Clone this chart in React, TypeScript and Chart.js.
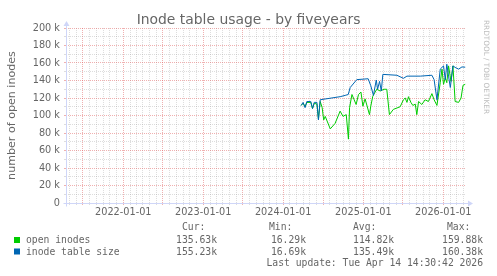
import React, { useEffect, useRef } from 'react';
import { Chart, registerables } from 'chart.js';

Chart.register(...registerables);

// ---- text ----
const TITLE = 'Inode table usage - by fiveyears';
const Y_LABEL = 'number of open inodes';
const WATERMARK = 'RRDTOOL / TOBI OETIKER';
const LAST_UPDATE = 'Last update: Tue Apr 14 14:30:42 2026';

// ---- time range ----
const RANGE_START = '2021-04-14T14:30:42Z';
const RANGE_END = '2026-04-14T14:30:42Z';

// ---- y axis ----
const Y_MIN = 0;
const Y_MAX = 200000;
const Y_MINOR_STEP = 10000;
const Y_MAJOR_STEP = 20000;

// ---- series: inode table size ----
const tableSizeDates = [
  '2024-03-23', '2024-04-01', '2024-04-10', '2024-04-18', '2024-05-06', '2024-05-14',
  '2024-05-22', '2024-06-03', '2024-06-10', '2024-06-18', '2024-09-17', '2024-10-10',
  '2024-10-24', '2024-11-02', '2024-12-02', '2025-01-23', '2025-02-04', '2025-02-16',
  '2025-03-01', '2025-03-07', '2025-03-16', '2025-03-24', '2025-03-31', '2025-06-03',
  '2025-07-03', '2025-07-19', '2025-09-18', '2025-11-10', '2025-11-20', '2025-12-03',
  '2025-12-18', '2026-01-02', '2026-01-10', '2026-01-17', '2026-01-25', '2026-02-02',
  '2026-02-14', '2026-02-24', '2026-03-12', '2026-03-27', '2026-04-11',
];
const tableSizeValues = [
  111500, 115000, 109000, 116000, 116000, 108000,
  115000, 115000, 95000, 118000, 121500, 123000,
  124000, 132000, 141000, 142000, 134000, 123000,
  140600, 130000, 139000, 128000, 147000, 146000,
  142500, 145000, 145000, 146000, 141000, 118000,
  153000, 156700, 141000, 158600, 145000, 132000,
  156700, 155000, 153000, 155500, 155230,
];

// ---- series: open inodes ----
const openInodeDates = [
  '2024-03-23', '2024-04-01', '2024-04-10', '2024-04-18', '2024-05-06', '2024-05-14',
  '2024-05-22', '2024-06-03', '2024-06-10', '2024-06-18', '2024-06-27', '2024-07-04',
  '2024-07-11', '2024-08-03', '2024-08-25', '2024-09-17', '2024-09-30', '2024-10-15',
  '2024-10-25', '2024-10-30', '2024-11-10', '2024-11-20', '2024-11-29', '2024-12-10',
  '2024-12-21', '2024-12-30', '2025-01-09', '2025-01-29', '2025-02-04', '2025-02-13',
  '2025-03-03', '2025-03-19', '2025-04-06', '2025-04-18', '2025-04-30', '2025-05-18',
  '2025-06-18', '2025-07-03', '2025-07-11', '2025-07-19', '2025-07-26', '2025-08-06',
  '2025-08-15', '2025-08-26', '2025-09-02', '2025-09-10', '2025-09-25', '2025-10-10',
  '2025-10-25', '2025-11-10', '2025-11-20', '2025-12-03', '2025-12-18', '2025-12-26',
  '2026-01-02', '2026-01-10', '2026-01-17', '2026-01-25', '2026-02-05', '2026-02-14',
  '2026-02-24', '2026-03-12', '2026-03-23', '2026-04-01', '2026-04-11',
];
const openInodeValues = [
  111500, 114000, 110000, 115000, 115000, 108000,
  114000, 113000, 96000, 116000, 109000, 95000,
  99000, 84700, 91000, 105000, 99000, 101000,
  73000, 109000, 124000, 118000, 112600, 124000,
  126800, 110700, 119000, 101000, 110700, 122000,
  130000, 128000, 130000, 130000, 101000, 107000,
  110000, 118000, 120000, 115000, 121500, 115000,
  111500, 113000, 101000, 116000, 112600, 118000,
  116000, 125000, 118000, 111500, 137500, 153000,
  135600, 143000, 137500, 156700, 139000, 156700,
  116000, 115000, 120000, 134500, 135630,
];

// ---- legend table ----
const legendNames = ['open inodes', 'inode table size'];
const statHeaders = ['Cur:', 'Min:', 'Avg:', 'Max:'];
const openInodeStats = ['135.63k', '16.29k', '114.82k', '159.88k'];
const tableSizeStats = ['155.23k', '16.69k', '135.49k', '160.38k'];

// ---- styles ----
const GREEN = '#00CC00';
const BLUE = '#0066B3';
const FONT_COLOR = '#666666';
const AXIS_COLOR = '#CFD6F8';
const MAJOR_GRID = 'rgba(222,79,79,0.45)';
const MINOR_GRID = 'rgba(150,150,150,0.32)';
const SANS = '"DejaVu Sans", sans-serif';
const MONO = '"DejaVu Sans Mono", monospace';

function monthStarts(startMs: number, endMs: number): number[] {
  const out: number[] = [];
  const s = new Date(startMs);
  const y = s.getUTCFullYear();
  let m = s.getUTCMonth() + 1;
  for (;;) {
    const t = Date.UTC(y, m, 1);
    if (t > endMs) break;
    out.push(t);
    m++;
  }
  return out;
}

const isMajorMonth = (v: number | undefined) => {
  if (v === undefined || v === null) return false;
  const m = new Date(v).getUTCMonth();
  return m === 0 || m === 6;
};

const rrdPlugin = {
  id: 'rrdDecor',
  beforeDraw(chart: any) {
    const { ctx, width, height } = chart;
    ctx.save();
    ctx.fillStyle = '#ffffff';
    ctx.fillRect(0, 0, width, height);
    ctx.restore();
  },
  beforeDatasetsDraw(chart: any) {
    const { ctx, chartArea } = chart;
    const x0 = Math.round(chartArea.left) + 0.5;
    const yb = Math.round(chartArea.bottom) + 0.5;
    ctx.save();
    ctx.strokeStyle = AXIS_COLOR;
    ctx.fillStyle = AXIS_COLOR;
    ctx.lineWidth = 1;
    ctx.beginPath();
    ctx.moveTo(x0, yb + 3);
    ctx.lineTo(x0, chartArea.top - 3);
    ctx.moveTo(x0 - 3, yb);
    ctx.lineTo(chartArea.right + 3, yb);
    ctx.stroke();
    // arrows
    ctx.beginPath();
    ctx.moveTo(x0 - 3, chartArea.top - 2);
    ctx.lineTo(x0 + 3, chartArea.top - 2);
    ctx.lineTo(x0, chartArea.top - 7);
    ctx.closePath();
    ctx.fill();
    ctx.beginPath();
    ctx.moveTo(chartArea.right + 2, yb - 3);
    ctx.lineTo(chartArea.right + 2, yb + 3);
    ctx.lineTo(chartArea.right + 7, yb);
    ctx.closePath();
    ctx.fill();
    ctx.restore();
  },
  afterDraw(chart: any) {
    const { ctx, width, chartArea } = chart;
    ctx.save();
    ctx.fillStyle = FONT_COLOR;
    // title
    ctx.font = `13.9px ${SANS}`;
    ctx.textAlign = 'center';
    ctx.textBaseline = 'alphabetic';
    ctx.fillText(TITLE, width / 2, 24);
    // vertical label
    ctx.save();
    ctx.translate(15, (chartArea.top + chartArea.bottom) / 2);
    ctx.rotate(-Math.PI / 2);
    ctx.font = `11.1px ${SANS}`;
    ctx.textAlign = 'center';
    ctx.fillText(Y_LABEL, 0, 0);
    ctx.restore();
    // watermark
    ctx.save();
    ctx.translate(484, 20);
    ctx.rotate(Math.PI / 2);
    ctx.font = `7.3px ${SANS}`;
    ctx.fillStyle = '#bdbdbd';
    ctx.textAlign = 'left';
    ctx.textBaseline = 'alphabetic';
    ctx.fillText(WATERMARK, 0, 0);
    ctx.restore();
    // legend
    ctx.font = `9.72px ${MONO}`;
    ctx.textBaseline = 'alphabetic';
    const headerLeft = [182, 269, 353, 447];
    const valueRight = [217, 306, 394, 483];
    ctx.textAlign = 'left';
    statHeaders.forEach((h, i) => ctx.fillText(h, headerLeft[i], 230));
    const rows = [
      { name: legendNames[0], color: GREEN, stats: openInodeStats, base: 243 },
      { name: legendNames[1], color: BLUE, stats: tableSizeStats, base: 254.5 },
    ];
    rows.forEach((r) => {
      ctx.fillStyle = r.color;
      ctx.fillRect(14, r.base - 6, 6, 6);
      ctx.fillStyle = FONT_COLOR;
      ctx.textAlign = 'left';
      ctx.fillText(r.name, 26, r.base);
      ctx.textAlign = 'right';
      r.stats.forEach((s, i) => ctx.fillText(s, valueRight[i], r.base));
    });
    ctx.textAlign = 'right';
    ctx.fillText(LAST_UPDATE, 483, 266);
    ctx.restore();
  },
};

export default function App() {
  const ref = useRef<HTMLCanvasElement | null>(null);

  useEffect(() => {
    const canvas = ref.current;
    if (!canvas) return;
    const xMin = Date.parse(RANGE_START);
    const xMax = Date.parse(RANGE_END);
    const months = monthStarts(xMin, xMax);

    const chart = new Chart(canvas, {
      type: 'line',
      data: {
        datasets: [
          {
            label: legendNames[1],
            data: tableSizeDates.map((d, i) => ({ x: Date.parse(d), y: tableSizeValues[i] })),
            borderColor: BLUE,
            backgroundColor: BLUE,
            borderWidth: 1,
            pointRadius: 0,
            fill: false,
            tension: 0,
            order: 0,
          },
          {
            label: legendNames[0],
            data: openInodeDates.map((d, i) => ({ x: Date.parse(d), y: openInodeValues[i] })),
            borderColor: GREEN,
            backgroundColor: GREEN,
            borderWidth: 1,
            pointRadius: 0,
            fill: false,
            tension: 0,
            order: 1,
          },
        ],
      },
      options: {
        responsive: false,
        animation: false,
        devicePixelRatio: 1,
        events: [],
        layout: { padding: { left: 0, top: 28, right: 31, bottom: 0 } },
        plugins: {
          legend: { display: false },
          title: { display: false },
          tooltip: { enabled: false },
        },
        scales: {
          x: {
            type: 'linear',
            min: xMin,
            max: xMax,
            bounds: 'data',
            afterBuildTicks: (s: any) => {
              s.ticks = months.map((v) => ({ value: v }));
            },
            afterFit: (s: any) => {
              s.height = 73;
            },
            grid: {
              color: (c: any) => (isMajorMonth(c.tick?.value) ? MAJOR_GRID : MINOR_GRID),
              tickColor: (c: any) => (isMajorMonth(c.tick?.value) ? MAJOR_GRID : MINOR_GRID),
              lineWidth: 1,
              drawTicks: true,
              tickLength: 2,
            },
            border: { display: false, dash: [1, 1] },
            ticks: {
              autoSkip: false,
              maxRotation: 0,
              minRotation: 0,
              padding: 2,
              color: FONT_COLOR,
              font: { family: SANS, size: 9.72 },
              callback: (v: any) => {
                const d = new Date(Number(v));
                return d.getUTCMonth() === 0 && d.getUTCDate() === 1 ? `${d.getUTCFullYear()}-01-01` : '';
              },
            },
          },
          y: {
            type: 'linear',
            min: Y_MIN,
            max: Y_MAX,
            afterFit: (s: any) => {
              s.width = 66;
            },
            grid: {
              color: (c: any) => (c.tick && c.tick.value % Y_MAJOR_STEP === 0 ? MAJOR_GRID : MINOR_GRID),
              tickColor: (c: any) => (c.tick && c.tick.value % Y_MAJOR_STEP === 0 ? MAJOR_GRID : MINOR_GRID),
              lineWidth: 1,
              drawTicks: true,
              tickLength: 2,
            },
            border: { display: false, dash: [1, 1] },
            ticks: {
              stepSize: Y_MINOR_STEP,
              autoSkip: false,
              padding: 4,
              color: FONT_COLOR,
              font: { family: SANS, size: 9.72 },
              callback: (v: any) => {
                const n = Number(v);
                if (n % Y_MAJOR_STEP !== 0) return '';
                return n === 0 ? '0' : `${n / 1000} k`;
              },
            },
          },
        },
      },
      plugins: [rrdPlugin],
    } as any);

    return () => chart.destroy();
  }, []);

  return (
    <div style={{ position: 'fixed', left: 0, top: 0, width: 497, height: 276, background: '#fff' }}>
      <canvas ref={ref} width={497} height={276} style={{ display: 'block', width: 497, height: 276 }} />
    </div>
  );
}
